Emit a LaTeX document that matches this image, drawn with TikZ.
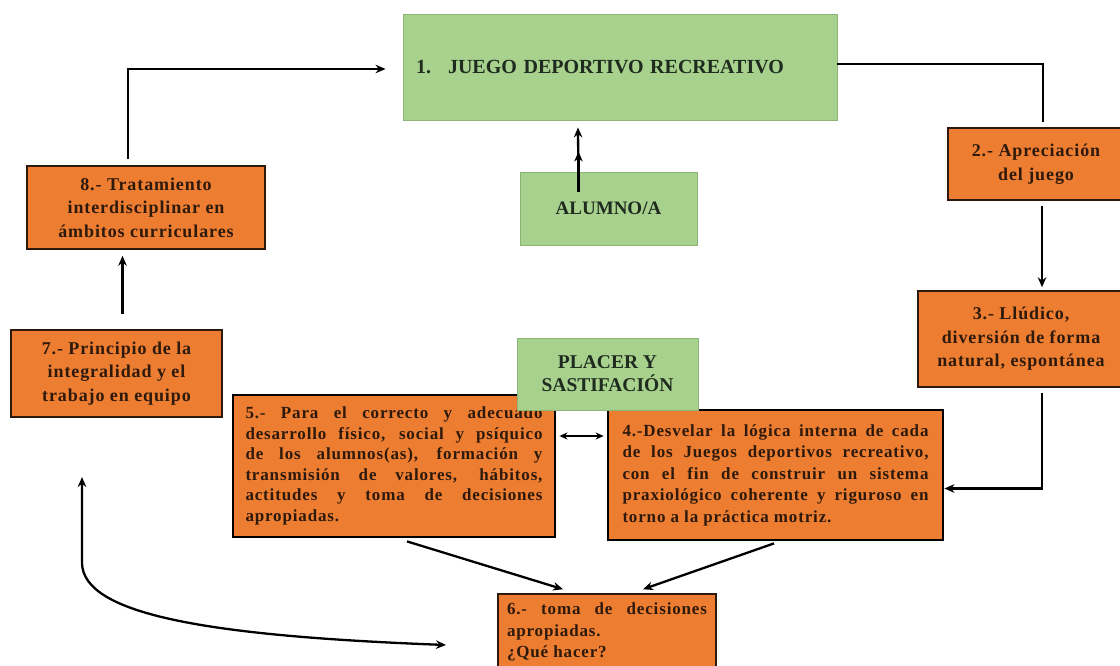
\documentclass[tikz,border=0pt]{standalone}
\usepackage{fontspec}
\setmainfont{Liberation Serif}
\newfontfamily\spc{Liberation Serif}[LetterSpace=5]
\usetikzlibrary{arrows.meta}
\definecolor{naranja}{HTML}{ED7D31}
\definecolor{verde}{HTML}{A9D18E}
\definecolor{verdeb}{HTML}{8DB376}
\definecolor{cafe}{HTML}{2E1A0C}
\definecolor{tverde}{HTML}{1E2B1E}

\begin{document}
\begin{tikzpicture}[x=1pt,y=-1pt,>={Stealth[length=10pt,width=8.5pt]},
  vbox/.style={draw=verdeb,fill=verde,line width=0.9pt,inner sep=0pt,align=center,text=tverde,
    font=\bfseries\fontsize{19.5}{23}\selectfont},
  nbox/.style={draw=cafe,fill=naranja,line width=1.5pt,inner sep=0pt,align=center,text=cafe,
    font=\spc\bfseries\fontsize{18}{23.5}\selectfont},
  gbox/.style={nbox,draw=black,line width=2.8pt,align=justify,
    font=\spc\bfseries\fontsize{17}{20.5}\selectfont},
  flecha/.style={->,line width=2.3pt}]
\useasboundingbox (0,0) rectangle (1120,666);
% cajas
\node[vbox,minimum width=434,minimum height=106,text width=408,align=left,font=\bfseries\fontsize{20}{24}\selectfont] (b1) at (620,67) {1.\hspace{17pt}JUEGO DEPORTIVO RECREATIVO};
\node[vbox,minimum width=177,minimum height=73,font=\bfseries\fontsize{19}{23}\selectfont] (al) at (608.5,208.5) {ALUMNO/A};
\node[nbox,minimum width=176,minimum height=72] (b2) at (1036,164) {2.- Apreciación\\del juego};
\node[nbox,minimum width=206,minimum height=96] (b3) at (1021,339) {3.- Llúdico,\\diversión de forma\\natural, espontánea};
\node[gbox,minimum width=335,minimum height=130,text width=306,font=\spc\bfseries\fontsize{17}{21.5}\selectfont] (b4) at (775.5,475) {4.-Desvelar la lógica interna de cada\linebreak de los Juegos deportivos recreativo,\linebreak con el fin de construir un sistema\linebreak praxiológico coherente y riguroso en\linebreak torno a la práctica motriz.};
\node[gbox,minimum width=322,minimum height=142,text width=297] (b5) at (394,466) {5.- Para el correcto y adecuado\linebreak desarrollo físico, social y psíquico\linebreak de los alumnos(as), formación y\linebreak transmisión de valores, hábitos,\linebreak actitudes y toma de decisiones\linebreak apropiadas.};
\node[nbox,minimum width=218,minimum height=76,text width=200,align=justify,font=\spc\bfseries\fontsize{17}{21.5}\selectfont] (b6) at (607,632) {6.- toma de decisiones\linebreak apropiadas.\\¿Qué hacer?};
\node[nbox,minimum width=211,minimum height=87] (b7) at (116.5,373.5) {7.- Principio de la\\integralidad y el\\trabajo en equipo};
\node[nbox,minimum width=238,minimum height=83] (b8) at (146,207.5) {8.- Tratamiento\\interdisciplinar en\\ámbitos curriculares};
\node[vbox,minimum width=181,minimum height=72] (pl) at (607.5,374) {PLACER Y\\SASTIFACIÓN};
% flechas
\draw[flecha] ([xshift=-18pt,yshift=6pt]b8.north) |- ([xshift=-17pt,yshift=-2pt]b1.west);
\draw[line width=2.3pt] ([yshift=3pt]b1.east) -| ([xshift=7pt,yshift=5pt]b2.north);
\draw[flecha] ([xshift=6pt,yshift=-5pt]b2.south) -- ([xshift=21pt,yshift=3pt]b3.north);
\draw[flecha] ([xshift=21pt,yshift=-5pt]b3.south) |- ([yshift=-13.5pt]b4.east);
\draw[flecha] ([xshift=-30pt,yshift=-20pt]al.north) -- ([xshift=-42pt,yshift=-7pt]b1.south);
\draw[flecha] ([xshift=-30pt,yshift=-20pt]al.north) -- ([xshift=-30pt,yshift=20pt]al.north);
\draw[flecha] ([xshift=6pt,yshift=15pt]b7.north) -- ([xshift=-23.5pt,yshift=-6pt]b8.south);
\draw[flecha,<->,line width=1.6pt,>={Stealth[length=8pt,width=7pt]}] ([xshift=3pt,yshift=30pt]b5.east) -- ([xshift=-3pt,yshift=39pt]b4.west);
\draw[flecha] ([xshift=13pt,yshift=-3pt]b5.south) -- ([xshift=-44pt,yshift=4pt]b6.north);
\draw[flecha] ([xshift=-1.5pt,yshift=-2pt]b4.south) -- ([xshift=36pt,yshift=4pt]b6.north);
\coordinate (c7) at (82,477);
\coordinate (c6) at (446,645);
\draw[flecha,<->] (c7) -- (82,563) .. controls (83,615) and (210,636) .. (c6);
\end{tikzpicture}
\end{document}
